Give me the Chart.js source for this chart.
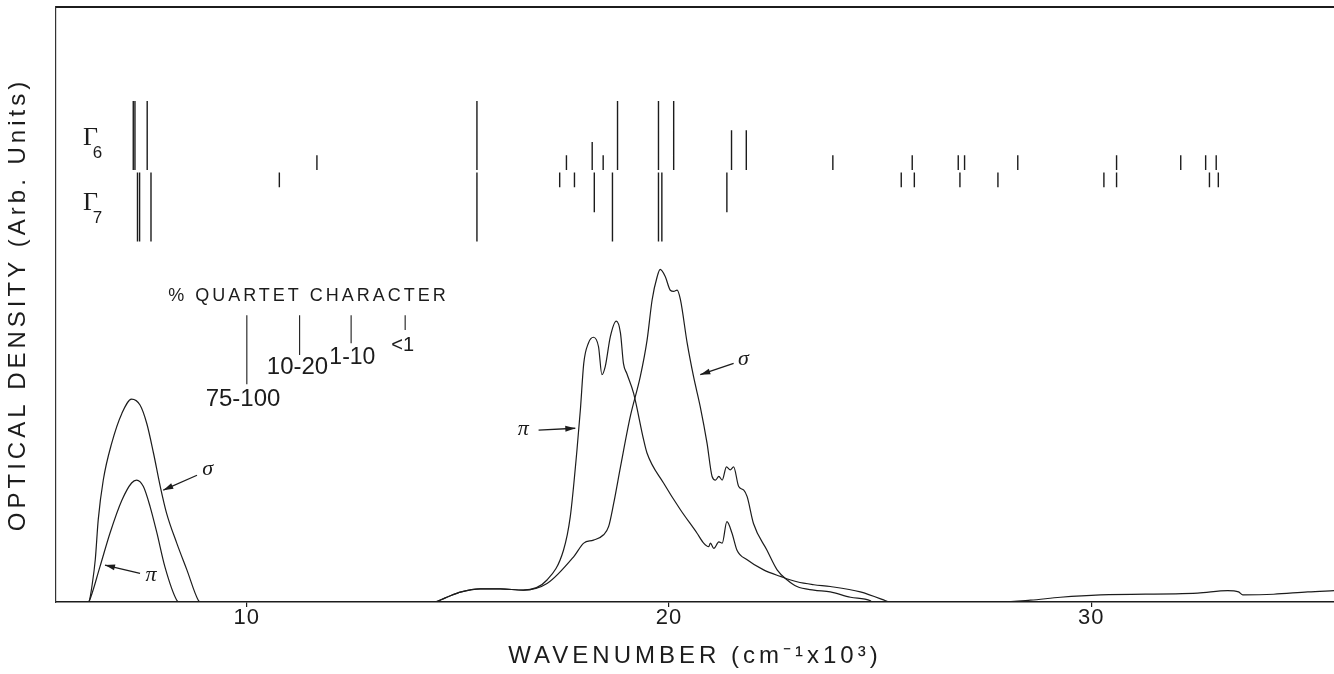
<!DOCTYPE html>
<html>
<head>
<meta charset="utf-8">
<script src="https://cdn.jsdelivr.net/npm/chart.js@4"></script>
<style>
  html, body { margin: 0; padding: 0; background: #fff; }
  #wrap { width: 1334px; height: 674px; position: relative; }
</style>
</head>
<body>
<div id="wrap"><canvas id="chart"></canvas></div>
<script>
// Wavenumber in 10^3 cm^-1, optical density in arbitrary units (0-100)
const sigmaX = [6.25, 6.27, 6.33, 6.41, 6.48, 6.60, 6.80, 7.04, 7.27, 7.47, 7.63, 7.79, 7.95, 8.10, 8.34, 8.58, 8.85, 8.90,
  14.44, 14.70, 15.08, 15.53, 16.00, 16.55, 17.11, 17.74, 17.98, 18.21, 18.45, 18.57, 18.69, 18.85, 19.08, 19.32,
  19.48, 19.60, 19.72, 19.79, 19.91, 20.03, 20.11, 20.19, 20.27, 20.43, 20.58, 20.74, 20.90, 21.02, 21.10, 21.18,
  21.26, 21.36, 21.45, 21.53, 21.65, 21.77, 21.85, 22.00, 22.32, 22.56, 22.80, 23.03, 23.43, 23.82, 24.30, 24.77, 24.80,
  27.85, 28.56, 29.27, 30.22, 32.52, 33.23, 33.49, 33.59, 34.32, 35.13, 35.75];
const sigmaY = [0, 0.2, 2.6, 7.1, 13.8, 20.5, 26.7, 31.7, 34.1, 33.1, 30.0, 25.0, 19.4, 14.9, 9.9, 5.4, 0.3, 0,
  0, 0.7, 1.7, 2.2, 2.2, 2.0, 3.1, 7.6, 9.9, 10.4, 11.3, 12.7, 16.6, 22.7, 31.1, 37.9,
  44.0, 50.8, 54.7, 55.9, 54.7, 52.4, 52.2, 52.4, 50.8, 43.5, 37.9, 32.8, 26.7, 21.1, 20.5, 21.1,
  20.5, 22.7, 22.2, 22.7, 19.4, 18.8, 17.7, 13.2, 8.7, 5.4, 3.7, 2.6, 2.0, 1.7, 0.8, 0.2, 0,
  0, 0.3, 0.8, 1.2, 1.5, 1.9, 1.7, 1.2, 1.3, 1.7, 1.9];

const piX = [6.25, 6.27, 6.52, 6.76, 7.04, 7.27, 7.39, 7.55, 7.71, 7.87, 8.06, 8.34, 8.40,
  14.44, 14.70, 15.08, 15.53, 16.00, 16.55, 17.11, 17.50, 17.66, 17.82, 17.90, 17.98, 18.09, 18.21, 18.33, 18.41,
  18.49, 18.61, 18.75, 18.85, 18.92, 19.00, 19.16, 19.40, 19.48, 19.87, 20.27, 20.66, 20.82, 20.94, 20.98, 21.06,
  21.18, 21.26, 21.37, 21.49, 21.61, 21.85, 22.24, 22.64, 23.03, 23.43, 23.82, 24.53, 25.13, 25.20];
const piY = [0, 0.2, 5.9, 11.6, 17.1, 20.0, 20.5, 19.4, 16.0, 11.6, 5.9, 0.3, 0,
  0, 0.7, 1.7, 2.2, 2.2, 2.0, 3.7, 8.7, 14.3, 25.6, 32.3, 40.1, 43.5, 44.5, 42.9, 38.2,
  39.6, 44.6, 47.2, 45.2, 40.1, 38.4, 35.1, 27.2, 25.0, 20.0, 15.5, 11.6, 9.9, 9.3, 9.9, 9.0,
  10.1, 9.9, 13.5, 11.6, 8.7, 7.1, 5.4, 4.3, 3.4, 2.9, 2.6, 1.7, 0.2, 0];

// crystal field levels, class index into quartetLabels
const gamma6X = [7.31, 7.35, 7.64, 11.66, 15.45, 17.57, 18.18, 18.44, 18.78, 19.75, 20.11, 21.48, 21.83,
  23.88, 25.76, 26.85, 27.00, 28.26, 30.60, 32.12, 32.71, 32.96];
const gamma6Class = [0, 0, 0, 3, 0, 3, 2, 3, 0, 0, 0, 1, 1, 3, 3, 3, 3, 3, 3, 3, 3, 3];
const gamma7X = [7.41, 7.46, 7.73, 10.77, 15.45, 17.41, 17.76, 18.23, 18.66, 19.75, 19.83, 21.37,
  25.50, 25.81, 26.89, 27.79, 30.30, 30.60, 32.80, 33.01];
const gamma7Class = [0, 0, 0, 3, 0, 3, 3, 1, 0, 0, 0, 1, 3, 3, 3, 3, 3, 3, 3, 3];

const quartetLabels = ["75-100", "10-20", "1-10", "<1"];
const quartetLength = [11.6, 6.7, 4.7, 2.5];
const quartetKeyX = [10.0, 11.25, 12.47, 13.75];

const xTicks = [10, 20, 30];

const INK = "#1c1c1c";
const SANS = "'Liberation Sans', Arial, sans-serif";
const SERIF = "'Liberation Serif', 'DejaVu Serif', serif";

function pairs(xs, ys) {
  return xs.map((x, i) => ({ x, y: ys[i] }));
}

// vertical sticks: base value, dir +1 up / -1 down
function sticks(xs, cls, base, dir) {
  const pts = [];
  xs.forEach((x, i) => {
    pts.push({ x, y: base }, { x, y: base + dir * quartetLength[cls[i]] }, { x, y: null });
  });
  return pts;
}

function drawArrow(ctx, x0, y0, x1, y1) {
  const a = Math.atan2(y1 - y0, x1 - x0);
  ctx.beginPath();
  ctx.moveTo(x0, y0);
  ctx.lineTo(x1, y1);
  ctx.stroke();
  ctx.beginPath();
  ctx.moveTo(x1, y1);
  ctx.lineTo(x1 - 10 * Math.cos(a) + 3 * Math.sin(a), y1 - 10 * Math.sin(a) - 3 * Math.cos(a));
  ctx.lineTo(x1 - 10 * Math.cos(a) - 3 * Math.sin(a), y1 - 10 * Math.sin(a) + 3 * Math.cos(a));
  ctx.closePath();
  ctx.fill();
}

function text(ctx, str, px, py, font, spacing, align) {
  ctx.font = font;
  ctx.letterSpacing = spacing + "px";
  ctx.textAlign = align || "center";
  ctx.textBaseline = "middle";
  ctx.fillText(str, px, py);
}

const notes = {
  id: "notes",
  // axis titles get wide lettering, tick labels (drawn after datasets) a tighter one
  beforeDraw(chart) {
    chart.ctx.letterSpacing = "4px";
  },
  beforeDatasetsDraw(chart) {
    chart.ctx.letterSpacing = "1px";
  },
  afterDraw(chart) {
    const { ctx, chartArea, scales: { x, y } } = chart;
    const X = (v) => x.getPixelForValue(v);
    const Y = (v) => y.getPixelForValue(v);
    ctx.save();
    ctx.strokeStyle = INK;
    ctx.fillStyle = INK;

    // top frame line
    ctx.lineWidth = 2;
    ctx.beginPath();
    ctx.moveTo(chartArea.left, chartArea.top);
    ctx.lineTo(chartArea.right, chartArea.top);
    ctx.stroke();

    // level labels
    text(ctx, "Γ", X(6.12), Y(77.9), "26px " + SERIF, 0, "left");
    text(ctx, "6", X(6.35), Y(75.4), "17px " + SANS, 0, "left");
    text(ctx, "Γ", X(6.12), Y(67.0), "26px " + SERIF, 0, "left");
    text(ctx, "7", X(6.35), Y(64.5), "17px " + SANS, 0, "left");

    // quartet key
    text(ctx, "% QUARTET CHARACTER", X(11.46), Y(51.4), "18px " + SANS, 3);
    text(ctx, quartetLabels[0], X(9.91), Y(34.0), "24px " + SANS, 0);
    text(ctx, quartetLabels[1], X(11.20), Y(39.4), "24px " + SANS, 0);
    text(ctx, quartetLabels[2], X(12.50), Y(41.1), "23px " + SANS, 0);
    text(ctx, quartetLabels[3], X(13.69), Y(43.1), "20px " + SANS, 0);

    // polarisation labels + arrows
    ctx.lineWidth = 1.3;
    const greek = "italic 22px " + SERIF;
    text(ctx, "σ", X(9.07), Y(22.3), greek, 0);
    drawArrow(ctx, X(8.82), Y(21.3), X(8.02), Y(18.8));
    text(ctx, "π", X(7.73), Y(4.5), greek, 0);
    drawArrow(ctx, X(7.47), Y(4.8), X(6.64), Y(6.2));
    text(ctx, "π", X(16.55), Y(29.0), greek, 0);
    drawArrow(ctx, X(16.91), Y(28.9), X(17.78), Y(29.2));
    text(ctx, "σ", X(21.76), Y(40.8), greek, 0);
    drawArrow(ctx, X(21.53), Y(40.1), X(20.74), Y(38.2));

    ctx.restore();
  }
};

const stickStyle = {
  borderColor: INK,
  borderWidth: 1.4,
  pointRadius: 0,
  tension: 0,
  spanGaps: false,
};
const curveStyle = {
  borderColor: INK,
  borderWidth: 1.2,
  pointRadius: 0,
  cubicInterpolationMode: "monotone",
};

new Chart(document.getElementById("chart"), {
  type: "line",
  data: {
    datasets: [
      { label: "sigma", data: pairs(sigmaX, sigmaY), ...curveStyle },
      { label: "pi", data: pairs(piX, piY), ...curveStyle },
      { label: "Gamma6", data: sticks(gamma6X, gamma6Class, 72.6, 1), ...stickStyle },
      { label: "Gamma7", data: sticks(gamma7X, gamma7Class, 72.2, -1), ...stickStyle },
      { label: "key", data: sticks(quartetKeyX, [0, 1, 2, 3], 48.2, -1), ...stickStyle, borderWidth: 1.1 },
    ],
  },
  options: {
    responsive: true,
    maintainAspectRatio: false,
    animation: false,
    layout: { padding: { top: 7, left: 0, right: 0, bottom: 0 } },
    plugins: { legend: { display: false }, tooltip: { enabled: false } },
    scales: {
      x: {
        type: "linear",
        min: 5.48,
        max: 35.75,
        afterBuildTicks: (s) => { s.ticks = xTicks.map((v) => ({ value: v })); },
        afterFit: (s) => { s.height = 72; },
        ticks: { font: { size: 22, family: SANS, lineHeight: 1 }, color: INK, padding: 0, maxRotation: 0, autoSkip: false, z: 1 },
        grid: { drawOnChartArea: false, tickLength: 5, color: INK, lineWidth: 1.2 },
        border: { display: true, color: INK, width: 1.5 },
        title: {
          display: true,
          text: "WAVENUMBER (cm⁻¹x10³)",
          color: INK,
          font: { size: 24, family: SANS },
          padding: { top: 0, bottom: 3 },
        },
      },
      y: {
        min: 0,
        max: 100,
        afterFit: (s) => { s.width = 56; },
        ticks: { display: false },
        grid: { display: false },
        border: { display: true, color: "#333", width: 1.2 },
        title: {
          display: true,
          text: "OPTICAL DENSITY (Arb. Units)",
          color: INK,
          font: { size: 24, family: SANS },
          padding: { top: 4, bottom: 0 },
        },
      },
    },
  },
  plugins: [notes],
});
</script>
</body>
</html>
